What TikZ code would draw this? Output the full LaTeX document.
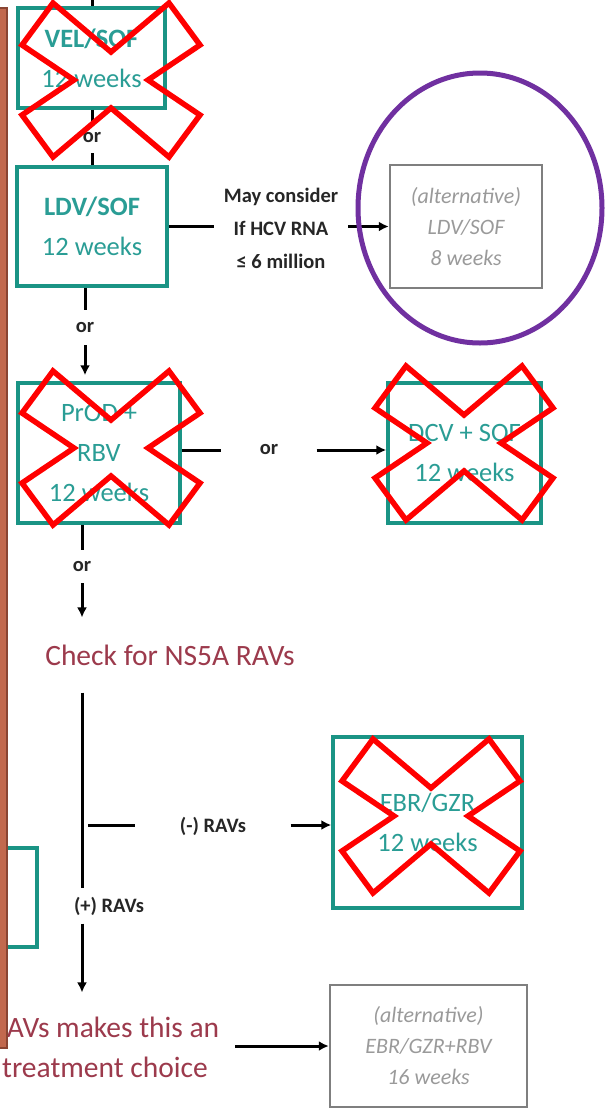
\documentclass[tikz,border=0pt]{standalone}
\usepackage{fontspec}
\setmainfont{Carlito}
\usetikzlibrary{arrows.meta}
\definecolor{tealline}{HTML}{1A9485}
\definecolor{tealtext}{HTML}{2A9D95}
\definecolor{grayline}{HTML}{7F7F7F}
\definecolor{graytext}{HTML}{9A9A9A}
\definecolor{checkred}{HTML}{9C3A4C}
\definecolor{brownfill}{HTML}{C2694E}
\definecolor{brownedge}{HTML}{8A4533}
\definecolor{xred}{HTML}{FF0000}
\definecolor{circpurple}{HTML}{7030A0}
\tikzset{
 tealbox/.style={draw=tealline, line width=3.5pt, fill=white, text=tealtext, align=center, font=\fontsize{26.5}{40}\selectfont, inner sep=0pt},
 altbox/.style={draw=grayline, line width=2.5pt, fill=white, text=graytext, align=center, font=\fontsize{22}{31}\selectfont\itshape, inner sep=0pt},
 lbl/.style={text=black!85, font=\fontsize{20.5}{33}\selectfont\bfseries, align=center, inner sep=0pt},
 conn/.style={line width=3pt, black},
 arr/.style={conn, -{Latex[length=10pt,width=10pt]}},
 redx/.style={draw=xred, line width=5.5pt, line join=miter},
 note/.style={text=checkred, font=\fontsize{29.5}{40}\selectfont, align=center},
}
\newcommand{\drawcross}[2]{\draw[redx,shift={(#1,#2)}] (-58,-77) -- (0,-28) -- (58,-77) -- (89,-35) -- (37,0) -- (89,35) -- (58,77) -- (0,28) -- (-58,77) -- (-89,35) -- (-37,0) -- (-89,-35) -- cycle;}
\begin{document}
\begin{tikzpicture}[x=1pt,y=-1pt]
\useasboundingbox (0,0) rectangle (615,1117);
\clip (0,0) rectangle (615,1117);
\fill[white] (0,0) rectangle (615,1117);

% boxes
\node[tealbox, minimum width=147pt, minimum height=100pt] (vel) at (91.5,58) {\bfseries VEL/SOF\\12 weeks};
\node[tealbox, minimum width=150pt, minimum height=119pt] (ldv) at (92,226.5) {\bfseries LDV/SOF\\12 weeks};
\node[altbox, minimum width=152pt, minimum height=123pt] (alt1) at (466,226.5) {(alternative)\\LDV/SOF\\8 weeks};
\node[tealbox, minimum width=162pt, minimum height=140pt] (prod) at (99,453) {PrOD +\\RBV\\12 weeks};
\node[tealbox, minimum width=153pt, minimum height=140pt] (dcv) at (464.5,453) {DCV + SOF\\12 weeks};
\node[tealbox, minimum width=189pt, minimum height=171pt] (ebr) at (427.5,822.5) {EBR/GZR\\12 weeks};
\node[altbox, minimum width=197pt, minimum height=122pt] (alt2) at (428.5,1046) {(alternative)\\EBR/GZR+RBV\\16 weeks};

% labels
\node[lbl, minimum height=31pt] (or1) at (92,137.5) {or};
\node[lbl, minimum height=35pt] (or2) at (85,327.5) {or};
\node[lbl, minimum width=95pt] (orh) at (269,450) {or};
\node[lbl, minimum height=33pt] (or3) at (82,566.5) {or};
\node[lbl, inner xsep=10pt] (may) at (281,228) {May consider\\If HCV RNA\\≤ 6 million};
\node[note, inner xsep=0pt, inner ysep=27pt] (check) at (170,655) {Check for NS5A RAVs};
\node[lbl, minimum width=155pt] (minus) at (213,826) {(-) RAVs};
\node[lbl, minimum height=35pt] (plus) at (109,906) {(+) RAVs};
\node[note, inner xsep=16pt, inner ysep=24pt] (bot) at (105,1047) {RAVs makes this an\\treatment choice};

% connectors
\coordinate (top) at (92,0);
\draw[conn] (top) -- (top |- vel.north);
\draw[conn] (or1 |- vel.south) -- (or1.north);
\draw[conn] (or1.south) -- (or1 |- ldv.north);
\draw[conn] (ldv.east) -- (ldv.east -| may.west);
\draw[arr] (may.east |- alt1.west) -- (alt1.west);
\draw[conn] (or2 |- ldv.south) -- (or2.north);
\draw[arr, shorten >=6pt] (or2.south) -- (or2 |- prod.north);
\draw[conn] (prod.east |- orh.west) -- (orh.west);
\draw[arr] (orh.east) -- (orh.east -| dcv.west);
\draw[conn] (or3 |- prod.south) -- (or3.north);
\draw[arr] (or3.south) -- (or3 |- check.north);
\draw[conn] (or3 |- check.south) -- (or3 |- plus.north);
\coordinate (br) at (88,825);
\draw[conn] (br) -- (br -| minus.west);
\draw[arr] (minus.east |- br) -- (br -| ebr.west);
\draw[arr] (or3 |- plus.south) -- (or3 |- bot.north);
\draw[arr] (bot.east |- alt2.west) -- (alt2.west);

% red crosses
\drawcross{111}{80}
\drawcross{111}{448}
\drawcross{464}{443}
\drawcross{431}{816}

% purple circle
\draw[circpurple, line width=5pt] (480,208) ellipse [x radius=122pt, y radius=135pt];

% left partial box and brown bar
\node[draw=tealline, line width=3.5pt, fill=white, minimum width=57pt, minimum height=99pt, inner sep=0pt] (lbox) at (8.5,897.5) {};
\filldraw[fill=brownfill, draw=brownedge, line width=1.5pt] (-5,8) rectangle (7,1048);
\end{tikzpicture}
\end{document}
